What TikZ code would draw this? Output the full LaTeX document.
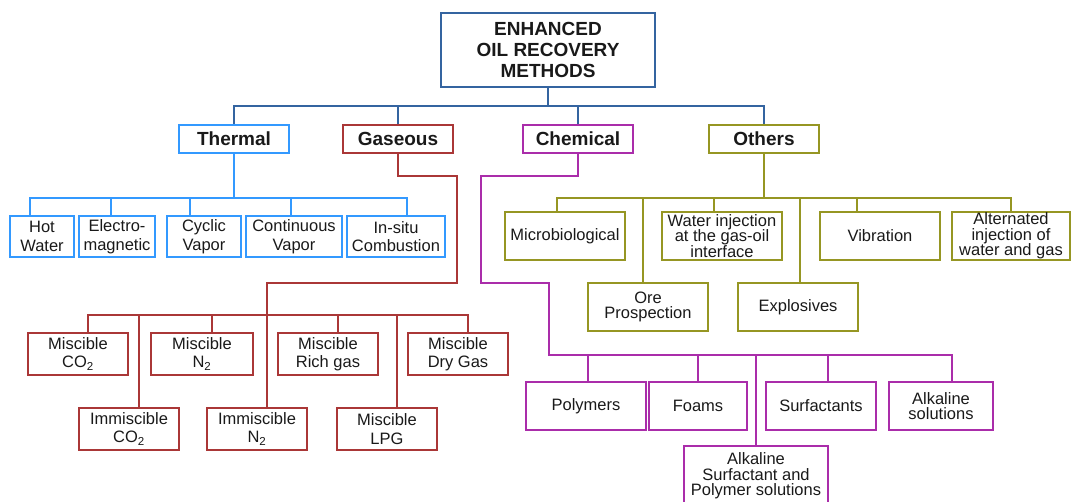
\documentclass[tikz,border=0pt]{standalone}
\usepackage{fontspec}
\setmainfont{Liberation Sans}
\usetikzlibrary{positioning}
\definecolor{rootblue}{RGB}{52,100,160}
\definecolor{thermblue}{RGB}{51,153,255}
\definecolor{gasred}{RGB}{170,55,55}
\definecolor{chempurple}{RGB}{170,45,170}
\definecolor{othgreen}{RGB}{150,150,35}

\begin{document}
\begin{tikzpicture}[x=1pt, y=-1pt,
		box/.style={rectangle, draw, line width=1.6pt, align=center, inner sep=0pt, text=black!90, font=\fontsize{16.5}{18.5}\selectfont},
		head/.style={box, minimum width=110, minimum height=28, font=\bfseries\fontsize{19}{21}\selectfont},
		tight/.style={font=\fontsize{16.5}{15.5}\selectfont},
		link/.style={line width=1.4pt}]
			\useasboundingbox (0,0) rectangle (1071,502);
			
			\node[box, draw=rootblue, minimum width=214, minimum height=74, font=\bfseries\fontsize{19}{21}\selectfont] (eor) at (548,50) {ENHANCED\\OIL RECOVERY\\METHODS};
			
			\node[head, draw=thermblue] (thermal) at (234,139) {Thermal};
			\node[head, draw=gasred] (gaseous) at (398,139) {Gaseous};
			\node[head, draw=chempurple] (chemical) at (578,139) {Chemical};
			\node[head, draw=othgreen] (others) at (764,139) {Others};
			
			\coordinate (topbus) at (0,106);
			\draw[link, rootblue] (eor.south) -- (eor.south |- topbus);
			\draw[link, rootblue] (thermal.north) |- (others.north |- topbus) -- (others.north);
			\draw[link, rootblue] (gaseous.north) -- (gaseous.north |- topbus);
			\draw[link, rootblue] (chemical.north) -- (chemical.north |- topbus);
			
			% thermal
			\node[box, draw=thermblue, minimum width=64, minimum height=41] (hot) at (42,236.5) {Hot\\Water};
			\node[box, draw=thermblue, minimum width=76, minimum height=41] (elec) at (117,236.5) {Electro-\\magnetic};
			\node[box, draw=thermblue, minimum width=74, minimum height=41] (cyc) at (204,236.5) {Cyclic\\Vapor};
			\node[box, draw=thermblue, minimum width=96, minimum height=41] (cont) at (294,236.5) {Continuous\\Vapor};
			\node[box, draw=thermblue, minimum width=98, minimum height=41] (insitu) at (396,236.5) {In-situ\\Combustion};
			
			\coordinate (thbus) at (0,198);
			\coordinate (hot-up) at ([xshift=-12pt]hot.north);
			\coordinate (elec-up) at ([xshift=-6pt]elec.north);
			\coordinate (cyc-up) at ([xshift=-14pt]cyc.north);
			\coordinate (cont-up) at ([xshift=-3pt]cont.north);
			\coordinate (insitu-up) at ([xshift=11pt]insitu.north);
			\draw[link, thermblue] (thermal.south) -- (thermal.south |- thbus);
			\draw[link, thermblue] (hot-up) |- (insitu-up |- thbus) -- (insitu-up);
			\foreach \n in {elec,cyc,cont}
				\draw[link, thermblue] (\n-up) -- (\n-up |- thbus);
			
			% gaseous
			\node[box, draw=gasred, minimum width=100, minimum height=42] (mco2) at (78,354) {Miscible\\CO\textsubscript{2}};
			\node[box, draw=gasred, minimum width=102, minimum height=42] (mn2) at (202,354) {Miscible\\N\textsubscript{2}};
			\node[box, draw=gasred, minimum width=100, minimum height=42] (mrich) at (328,354) {Miscible\\Rich gas};
			\node[box, draw=gasred, minimum width=100, minimum height=42] (mdry) at (458,354) {Miscible\\Dry Gas};
			\node[box, draw=gasred, minimum width=100, minimum height=42] (imco2) at (129,429) {Immiscible\\CO\textsubscript{2}};
			\node[box, draw=gasred, minimum width=100, minimum height=42] (imn2) at (257,429) {Immiscible\\N\textsubscript{2}};
			\node[box, draw=gasred, minimum width=100, minimum height=42] (lpg) at (387,429) {Miscible\\LPG};
			
			\coordinate (gbus) at (0,315);
			\foreach \n in {mco2,mn2,mrich,mdry,imco2,imn2,lpg}
				\coordinate (\n-up) at ([xshift=10pt]\n.north);
			\draw[link, gasred] (gaseous.south) |- (457,176) |- (imn2-up |- 0,283) -- (imn2-up);
			\draw[link, gasred] (mco2-up) |- (mdry-up |- gbus) -- (mdry-up);
			\foreach \n in {mn2,mrich,imco2,lpg}
				\draw[link, gasred] (\n-up) -- (\n-up |- gbus);
			
			% chemical
			\node[box, draw=chempurple, minimum width=120, minimum height=48] (poly) at (586,406) {Polymers};
			\node[box, draw=chempurple, minimum width=98, minimum height=48] (foams) at (698,406) {Foams};
			\node[box, draw=chempurple, minimum width=110, minimum height=48] (surf) at (821,406) {Surfactants};
			\node[box, draw=chempurple, minimum width=104, minimum height=48, tight] (alks) at (941,406) {Alkaline\\solutions};
			\node[box, draw=chempurple, minimum width=144, minimum height=60, tight] (asp) at (756,476) {Alkaline\\Surfactant and\\Polymer solutions};
			
			\coordinate (cbus) at (0,355);
			\coordinate (poly-up) at ([xshift=2pt]poly.north);
			\coordinate (foams-up) at (foams.north);
			\coordinate (surf-up) at ([xshift=7pt]surf.north);
			\coordinate (alks-up) at ([xshift=11pt]alks.north);
			\coordinate (asp-up) at (asp.north);
			\draw[link, chempurple] (chemical.south) |- (481,176) |- (549,283) |- (alks-up |- cbus) -- (alks-up);
			\foreach \n in {poly,foams,surf,asp}
				\draw[link, chempurple] (\n-up) -- (\n-up |- cbus);
			
			% others
			\node[box, draw=othgreen, minimum width=120, minimum height=48] (micro) at (565,236) {Microbiological};
			\node[box, draw=othgreen, minimum width=120, minimum height=48, tight] (water) at (722,236) {Water injection\\at the gas-oil\\interface};
			\node[box, draw=othgreen, minimum width=120, minimum height=48] (vib) at (880,236) {Vibration};
			\node[box, draw=othgreen, minimum width=118, minimum height=48, tight] (alt) at (1011,236) {Alternated\\injection of\\water and gas};
			\node[box, draw=othgreen, minimum width=120, minimum height=48, tight] (ore) at (648,307) {Ore\\Prospection};
			\node[box, draw=othgreen, minimum width=120, minimum height=48] (expl) at (798,307) {Explosives};
			
			\coordinate (obus) at (0,198);
			\coordinate (micro-up) at ([xshift=-8pt]micro.north);
			\coordinate (water-up) at ([xshift=-8pt]water.north);
			\coordinate (vib-up) at ([xshift=-23pt]vib.north);
			\coordinate (alt-up) at (alt.north);
			\coordinate (ore-up) at ([xshift=-5pt]ore.north);
			\coordinate (expl-up) at ([xshift=2pt]expl.north);
			\draw[link, othgreen] (others.south) -- (others.south |- obus);
			\draw[link, othgreen] (micro-up) |- (alt-up |- obus) -- (alt-up);
			\foreach \n in {water,vib,ore,expl}
				\draw[link, othgreen] (\n-up) -- (\n-up |- obus);
		\end{tikzpicture}
\end{document}
